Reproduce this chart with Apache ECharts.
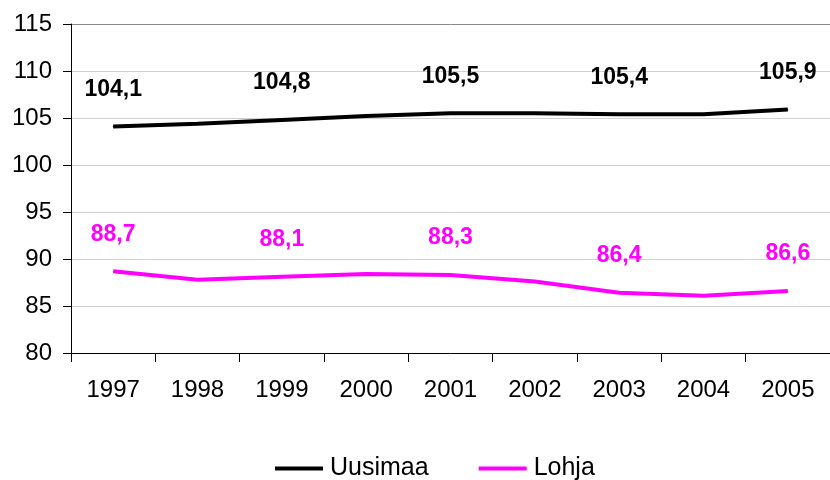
<!DOCTYPE html>
<html>
<head>
<meta charset="utf-8">
<script src="https://cdn.jsdelivr.net/npm/echarts@6/dist/echarts.min.js"></script>
<style>html,body{margin:0;padding:0;background:#fff;}#c{width:830px;height:480px;}</style>
</head>
<body>
<div id="c"></div>
<script>
var years = ['1997','1998','1999','2000','2001','2002','2003','2004','2005'];
var uusimaa = [104.1, 104.4, 104.8, 105.2, 105.5, 105.5, 105.4, 105.4, 105.9];
var lohja = [88.7, 87.8, 88.1, 88.4, 88.3, 87.6, 86.4, 86.1, 86.6];
var labeledIdx = [0, 2, 4, 6, 8];

var FONT = '"Liberation Sans", Arial, sans-serif';
function fmt(p) {
  return labeledIdx.indexOf(p.dataIndex) >= 0 ? p.value.toFixed(1).replace('.', ',') : '';
}
var chart = echarts.init(document.getElementById('c'), null, {renderer: 'canvas'});
chart.setOption({
  animation: false,
  backgroundColor: '#fff',
  textStyle: {fontFamily: FONT},
  grid: {left: 71, top: 24, width: 765, bottom: 127},
  legend: {
    bottom: -6, left: 270,
    itemWidth: 48, itemHeight: 4, icon: 'rect', itemGap: 50,
    textStyle: {fontFamily: FONT, fontSize: 25, color: '#000', padding: [0, 0, 0, 2]},
    data: ['Uusimaa', 'Lohja']
  },
  xAxis: {
    type: 'category', data: years, boundaryGap: true,
    axisLine: {lineStyle: {color: '#000', width: 1}},
    axisTick: {show: true, length: 9, lineStyle: {color: '#000'}},
    axisLabel: {fontFamily: FONT, fontSize: 24, color: '#000', margin: 25}
  },
  yAxis: {
    type: 'value', min: 80, max: 115, interval: 5,
    axisLine: {show: true, lineStyle: {color: '#000', width: 1}},
    axisTick: {show: true, length: 8, lineStyle: {color: '#000'}},
    axisLabel: {fontFamily: FONT, fontSize: 24, color: '#000', margin: 19},
    splitLine: {show: true, lineStyle: {color: ['#d0d0d0','#d0d0d0','#d0d0d0','#d0d0d0','#d0d0d0','#d0d0d0','#d0d0d0','#888'], width: 1}}
  },
  series: [
    {
      name: 'Uusimaa', type: 'line', data: uusimaa,
      symbol: 'circle', symbolSize: 1, showSymbol: true,
      lineStyle: {color: '#000', width: 4},
      itemStyle: {color: '#000'},
      label: {show: true, position: 'top', distance: 25, formatter: fmt,
        fontFamily: FONT, fontSize: 23, fontWeight: 'bold', color: '#000'}
    },
    {
      name: 'Lohja', type: 'line', data: lohja,
      symbol: 'circle', symbolSize: 1, showSymbol: true,
      lineStyle: {color: '#ff00ff', width: 4},
      itemStyle: {color: '#ff00ff'},
      label: {show: true, position: 'top', distance: 25, formatter: fmt,
        fontFamily: FONT, fontSize: 23, fontWeight: 'bold', color: '#ff00ff'}
    }
  ]
});
</script>
</body>
</html>
